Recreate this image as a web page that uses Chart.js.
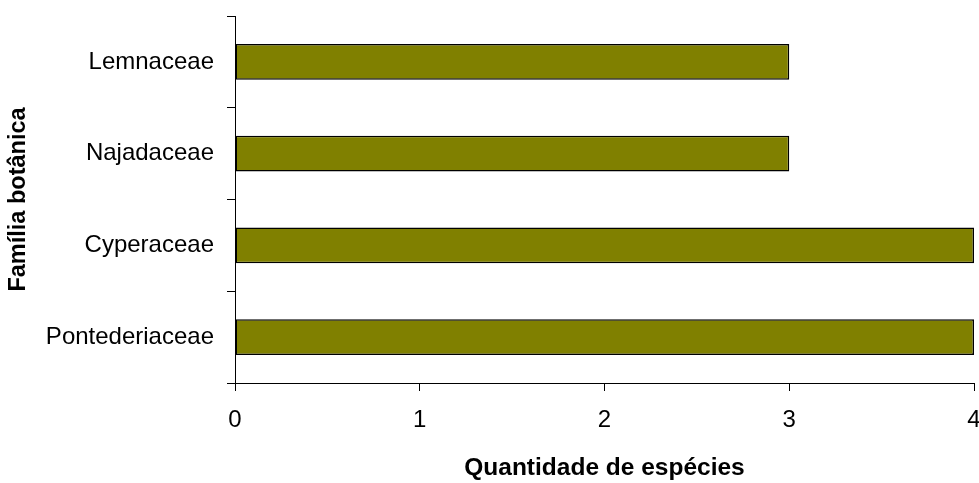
<!DOCTYPE html>
<html>
<head>
<meta charset="utf-8">
<script src="https://cdn.jsdelivr.net/npm/chart.js@4/dist/chart.umd.min.js"></script>
<style>
  html, body { margin: 0; padding: 0; background: #fff; }
  #wrap { width: 979px; height: 483px; position: relative; }
</style>
</head>
<body>
<div id="wrap"><canvas id="barChart"></canvas></div>
<script>
// --- данные ---
const familias = ['Lemnaceae', 'Najadaceae', 'Cyperaceae', 'Pontederiaceae'];
const especies = [3, 3, 4, 4];
const xTicks = [0, 1, 2, 3, 4];

Chart.defaults.font.family = '"Liberation Sans", Arial, sans-serif';
Chart.defaults.color = '#000';

// убираем авто-отступы под подписи, чтобы область графика была как в оригинале
function noLabelPadding(axis) {
    axis.paddingLeft = 0;
    axis.paddingRight = 0;
    axis.paddingTop = 0;
    axis.paddingBottom = 0;
}

const ctx = document.getElementById('barChart').getContext('2d');

new Chart(ctx, {
    type: 'bar',
    data: {
        labels: familias,
        datasets: [{
            data: especies,
            backgroundColor: '#808000',
            borderColor: '#000',
            borderWidth: 1.5,
            borderSkipped: false,
            barPercentage: 0.39,
            categoryPercentage: 1
        }]
    },
    options: {
        indexAxis: 'y',
        responsive: true,
        maintainAspectRatio: false,
        animation: false,
        layout: { padding: { left: 0, right: 5, top: 16, bottom: 0 } },
        plugins: { legend: { display: false }, tooltip: { enabled: false } },
        scales: {
            x: {
                min: xTicks[0],
                max: xTicks[xTicks.length - 1],
                afterBuildTicks: (axis) => { axis.ticks = xTicks.map(v => ({ value: v })); },
                afterFit: (axis) => { axis.height = 100; noLabelPadding(axis); },
                grid: { drawOnChartArea: false, tickLength: 8, color: '#000', tickColor: '#000' },
                border: { color: '#000', width: 1 },
                ticks: { font: { size: 24 }, padding: 15, maxRotation: 0 },
                title: {
                    display: true,
                    text: 'Quantidade de espécies',
                    font: { size: 24.5, weight: 'bold' },
                    padding: { top: 0, bottom: 0 }
                }
            },
            y: {
                afterFit: (axis) => { axis.width = 235; noLabelPadding(axis); },
                grid: { drawOnChartArea: false, tickLength: 8, color: '#000', tickColor: '#000' },
                border: { color: '#000', width: 1 },
                ticks: { font: { size: 24 }, padding: 13 },
                title: {
                    display: true,
                    text: 'Família botânica',
                    font: { size: 23.5, weight: 'bold' },
                    padding: { top: 4, bottom: 0 }
                }
            }
        }
    }
});
</script>
</body>
</html>
